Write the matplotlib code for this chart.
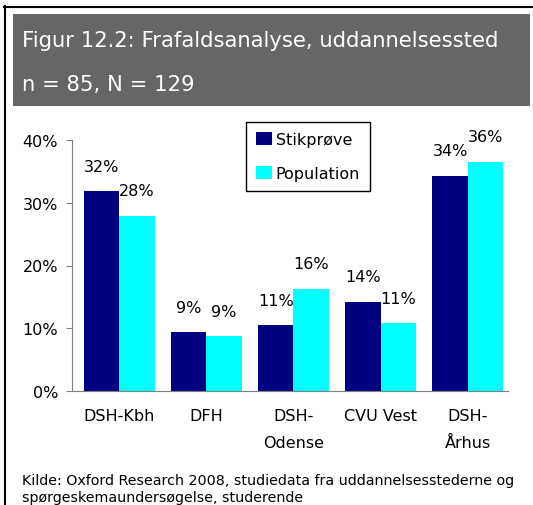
import matplotlib
matplotlib.use('Agg')
import matplotlib.pyplot as plt
from matplotlib.patches import Rectangle
from matplotlib.lines import Line2D
import numpy as np

categories = ['DSH-Kbh', 'DFH', 'DSH-\nOdense', 'CVU Vest', 'DSH-\nÅrhus']
stikproeve = [0.318, 0.094, 0.105, 0.142, 0.343]
population = [0.279, 0.087, 0.163, 0.108, 0.365]
labels_s = ['32%', '9%', '11%', '14%', '34%']
labels_p = ['28%', '9%', '16%', '11%', '36%']
yticks = [0, 0.1, 0.2, 0.3, 0.4]
ytick_labels = ['0%', '10%', '20%', '30%', '40%']

plt.rcParams['font.family'] = ['DejaVu Sans']

W, H = 533, 506
fig = plt.figure(figsize=(W / 100, H / 100), dpi=100)

# frame lines (top and left only)
fig.add_artist(Line2D([4 / W, 1], [1 - 7.5 / H, 1 - 7.5 / H], color='black', lw=1.5,
                      transform=fig.transFigure))
fig.add_artist(Line2D([5 / W, 5 / W], [0, 1 - 7 / H], color='black', lw=1.5,
                      transform=fig.transFigure))

# title box
fig.add_artist(Rectangle((13 / W, 1 - 107 / H), 517 / W, 92 / H, facecolor='#666666',
                         edgecolor='none', transform=fig.transFigure))
fig.text(22 / W, 1 - 47 / H, 'Figur 12.2: Frafaldsanalyse, uddannelsessted', color='white',
         fontsize=15.2, va='baseline', ha='left')
fig.text(22 / W, 1 - 91 / H, 'n = 85, N = 129', color='white',
         fontsize=15.2, va='baseline', ha='left')

ax = fig.add_axes([72 / W, 1 - 392 / H, 436 / W, 251 / H])
x = np.arange(len(categories))
w = 0.407
b1 = ax.bar(x - w / 2, stikproeve, w, color='#000080', label='Stikprøve')
b2 = ax.bar(x + w / 2, population, w, color='#00FFFF', label='Population')

for rect, lab in zip(b1, labels_s):
    ax.annotate(lab, (rect.get_x() + rect.get_width() / 2, rect.get_height()),
                xytext=(0, 18), textcoords='offset points', ha='center', va='center',
                fontsize=11.5)
for rect, lab in zip(b2, labels_p):
    ax.annotate(lab, (rect.get_x() + rect.get_width() / 2, rect.get_height()),
                xytext=(0, 18), textcoords='offset points', ha='center', va='center',
                fontsize=11.5)

ax.set_xlim(-0.54, 4.46)
ax.set_ylim(0, 0.4)
ax.set_yticks(yticks)
ax.set_yticklabels(ytick_labels, fontsize=11.5)
ax.set_xticks(x)
ax.set_xticklabels(categories, fontsize=11.5, linespacing=2.0, va='top')
ax.tick_params(axis='x', length=0, pad=12)
ax.tick_params(axis='y', length=4, color='#808080', pad=6)
for s in ['top', 'right']:
    ax.spines[s].set_visible(False)
for s in ['left', 'bottom']:
    ax.spines[s].set_color('#808080')

leg = ax.legend(loc='upper left', bbox_to_anchor=(246 / W, 1 - 123 / H),
                bbox_transform=fig.transFigure, fontsize=11.5, frameon=True,
                fancybox=False, edgecolor='black', framealpha=1,
                handlelength=1.0, handleheight=0.85, handletextpad=0.2,
                labelspacing=1.15, borderpad=0.65, borderaxespad=0)
leg.get_frame().set_linewidth(1.0)

fig.text(22 / W, 1 - 485 / H, 'Kilde: Oxford Research 2008, studiedata fra uddannelsesstederne og',
         fontsize=10.3, va='baseline', ha='left')
fig.text(22 / W, 1 - 502 / H, 'spørgeskemaundersøgelse, studerende',
         fontsize=10.3, va='baseline', ha='left')

fig.savefig('out.png', dpi=100)
